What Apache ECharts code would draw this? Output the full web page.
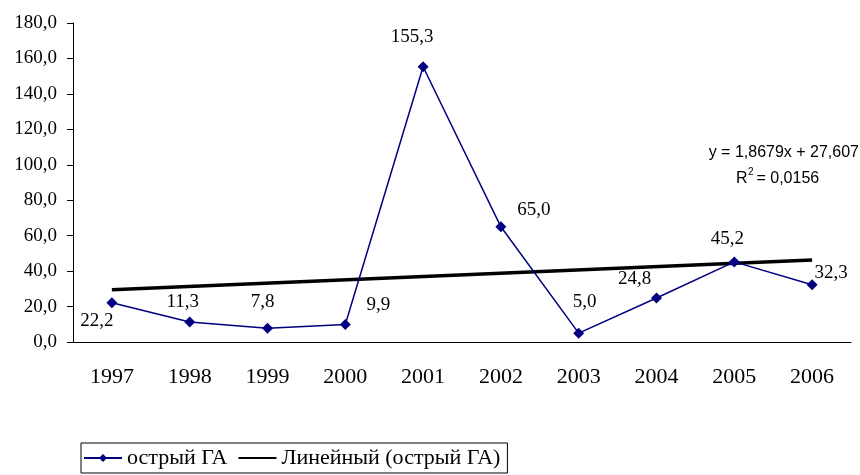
<!DOCTYPE html>
<html>
<head>
<meta charset="utf-8">
<script src="https://cdn.jsdelivr.net/npm/echarts@6/dist/echarts.min.js"></script>
<style>
  html, body { margin: 0; padding: 0; background: #fff; }
  #chart { width: 860px; height: 475px; }
</style>
</head>
<body>
<div id="chart"></div>
<script>
const years = ['1997', '1998', '1999', '2000', '2001', '2002', '2003', '2004', '2005', '2006']
const values = [22.2, 11.3, 7.8, 9.9, 155.3, 65.0, 5.0, 24.8, 45.2, 32.3]
// trend line endpoints
const trend = [29.5, null, null, null, null, null, null, null, null, 46.3]
// label placement per point (centre of label relative to the marker)
const labelOffsets = [[-15, 18], [-7, -20], [-5, -26], [33, -19], [-11, -30], [33, -17], [6, -31], [-22, -19], [-7, -23], [19, -12]]

const serif = '"Liberation Serif", "Times New Roman", serif'
const sans = '"Liberation Sans", Arial, sans-serif'
const chart = echarts.init(document.getElementById('chart'))

chart.setOption({
  animation: false,
  grid: { left: 73, right: 9, top: 23, bottom: 133, containLabel: false },
  xAxis: {
    type: 'category',
    data: years,
    boundaryGap: true,
    axisLine: { lineStyle: { color: '#000', width: 1 } },
    axisTick: { length: 6, lineStyle: { color: '#000' } },
    axisLabel: { color: '#000', fontFamily: serif, fontSize: 22, margin: 24 },
    splitLine: { show: false },
  },
  yAxis: {
    type: 'value',
    min: 0,
    max: 180,
    interval: 20,
    axisLine: { show: true, lineStyle: { color: '#000', width: 1 } },
    axisTick: { show: true, length: 6, lineStyle: { color: '#000' } },
    axisLabel: {
      color: '#000', fontFamily: serif, fontSize: 19, margin: 16,
      formatter: v => v.toFixed(1).replace('.', ','),
    },
    splitLine: { show: false },
  },
  legend: {
    left: 81,
    top: 443,
    padding: [4, 7, 4, 2],
    itemGap: 10,
    itemWidth: 38,
    itemHeight: 10,
    borderColor: '#000',
    borderWidth: 1,
    textStyle: { color: '#000', fontFamily: serif, fontSize: 22, lineHeight: 22 },
    data: [
      { name: 'острый ГА' },
      { name: 'Линейный (острый ГА)', itemStyle: { opacity: 0 } },
    ],
  },
  graphic: [
    {
      type: 'text', right: 1, top: 145,
      style: { text: 'y = 1,8679x + 27,607', fill: '#000', font: `16px ${sans}` },
    },
    {
      type: 'text', left: 736, top: 171,
      style: { text: 'R  = 0,0156', fill: '#000', font: `16px ${sans}` },
    },
    {
      type: 'text', left: 748, top: 167,
      style: { text: '2', fill: '#000', font: `10px ${sans}` },
    },
  ],
  series: [
    {
      name: 'острый ГА',
      type: 'line',
      data: values.map((v, i) => ({
        value: v,
        label: { offset: labelOffsets[i] },
      })),
      color: '#000080',
      lineStyle: { color: '#000080', width: 1.5 },
      symbol: 'diamond',
      symbolSize: 11,
      itemStyle: { color: '#000080' },
      label: {
        show: true,
        position: 'inside',
        color: '#000',
        fontFamily: serif,
        fontSize: 19,
        formatter: p => p.value.toFixed(1).replace('.', ','),
      },
      z: 3,
    },
    {
      name: 'Линейный (острый ГА)',
      type: 'line',
      data: trend,
      connectNulls: true,
      symbol: 'none',
      color: '#000',
      lineStyle: { color: '#000', width: 3.5 },
      z: 2,
    },
  ],
})
</script>
</body>
</html>
